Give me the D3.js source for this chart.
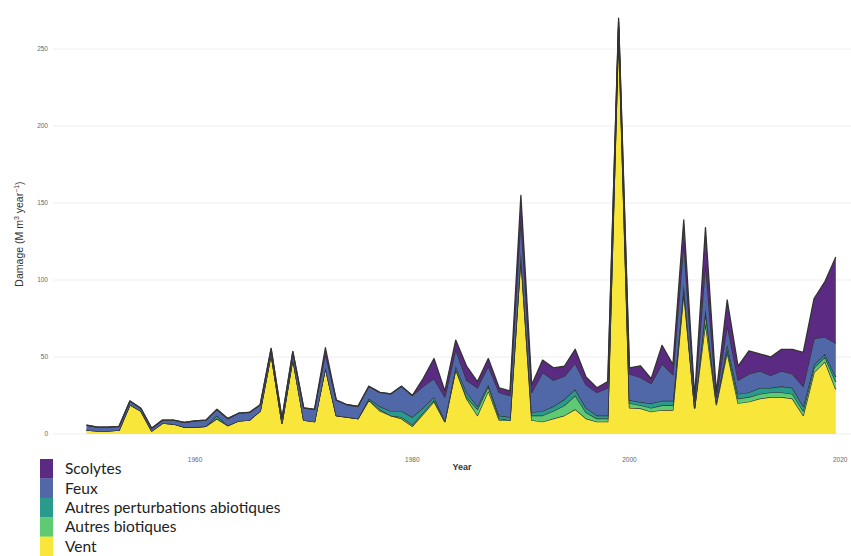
<!DOCTYPE html>
<html>
<head>
<meta charset="utf-8">
<script src="https://cdn.jsdelivr.net/npm/d3@7"></script>
<style>
  html, body { margin: 0; padding: 0; background: #fff; }
  svg { display: block; }
</style>
</head>
<body>
<svg id="chart" width="851" height="556"></svg>
<script>
// Annual forest damage by disturbance agent, 1950–2019 (M m³ / year)
const years = [
  1950, 1951, 1952, 1953, 1954, 1955, 1956, 1957, 1958, 1959,
  1960, 1961, 1962, 1963, 1964, 1965, 1966, 1967, 1968, 1969,
  1970, 1971, 1972, 1973, 1974, 1975, 1976, 1977, 1978, 1979,
  1980, 1981, 1982, 1983, 1984, 1985, 1986, 1987, 1988, 1989,
  1990, 1991, 1992, 1993, 1994, 1995, 1996, 1997, 1998, 1999,
  2000, 2001, 2002, 2003, 2004, 2005, 2006, 2007, 2008, 2009,
  2010, 2011, 2012, 2013, 2014, 2015, 2016, 2017, 2018, 2019
];

const vent = [
  2.5, 2, 2, 2.5, 19, 15, 2, 7, 6.5, 4.5,
  4.5, 5, 10, 5.5, 8.5, 9, 15, 52, 7, 49,
  9, 8, 43, 12, 11, 10, 22, 15, 12, 10,
  5, 13, 21, 8, 42, 23, 12, 28, 9, 9,
  115, 9, 8, 10, 12, 16, 10, 8, 8, 263,
  17, 16.7, 14.5, 15.6, 15.6, 92, 17, 72, 19, 53,
  20, 21, 23, 24, 24, 23, 12, 40, 47, 29
];

const autresBiotiques = [
  0, 0, 0, 0, 0, 0, 0, 0, 0, 0,
  0, 0, 0, 0, 0, 0, 0, 0, 0, 0,
  0, 0, 0, 0, 0, 0, 0, 1, 0, 1,
  1, 1, 1, 0, 0, 1, 4, 3, 1, 0,
  1, 3, 4, 5, 6.5, 9, 4, 2, 2, 1,
  3, 2, 2.4, 3, 3, 2, 0, 7, 1, 2,
  3, 3, 3, 3, 3, 3, 3, 3, 3, 5
];

const autresAbiotiques = [
  0, 0, 0, 0, 0, 0, 0, 0, 0, 0,
  0, 0, 2, 0, 0, 0, 0, 0, 0, 0,
  0, 0, 0, 0, 0, 0, 1, 2, 3, 4,
  5, 3, 2, 1, 2, 3, 2, 1, 2, 2,
  2, 2, 3, 3, 4, 4, 3, 2, 2, 1,
  2, 2, 3, 3, 3, 3, 0, 2, 1, 3,
  3, 3, 4, 3, 4, 4, 3, 2, 2, 3
];

const feux = [
  3.3, 2.5, 2.5, 2.5, 2.4, 1.7, 1.7, 2, 2.5, 3,
  4, 4, 4, 4.5, 5, 5, 4, 3.5, 3, 4.5,
  8, 8, 9, 10, 8, 8, 8, 9, 11, 16,
  14, 14, 12, 15, 11, 8, 12, 12, 15, 14,
  22, 13, 25, 17, 15, 17, 15, 15, 18, 3,
  17, 16, 13, 24, 17, 28, 4, 30, 3, 13,
  9, 12, 11, 8, 10, 9, 13, 17, 11, 22
];

const scolytes = [
  0, 0, 0, 0, 0, 0, 0, 0, 0, 0,
  0, 0, 0, 0, 0, 0, 0, 0, 0, 0,
  0, 0, 4, 0, 0, 0, 0, 0, 0, 0,
  0, 5, 13, 4, 6, 9, 4, 5, 3, 3,
  15, 5, 8, 8, 6.5, 9, 5, 3, 4, 2,
  4, 7.6, 3, 12, 6.5, 14, 3, 23, 3, 16,
  9, 15, 11, 12, 14, 16, 22, 26, 36, 56
];

const xTicks = [1960, 1980, 2000, 2020];
const yTicks = [0, 50, 100, 150, 200, 250];

// Stacking order, bottom to top, with legend labels (legend lists top first)
const keys = ["vent", "bio", "abio", "feux", "scol"];
const labels = {
  scol: "Scolytes",
  feux: "Feux",
  abio: "Autres perturbations abiotiques",
  bio: "Autres biotiques",
  vent: "Vent"
};
const colors = {
  scol: "#5b2a82",
  feux: "#5068a8",
  abio: "#2a9a8c",
  bio: "#5ecb74",
  vent: "#f9e63b"
};

const rows = years.map((yr, i) => ({
  year: yr,
  vent: vent[i],
  bio: autresBiotiques[i],
  abio: autresAbiotiques[i],
  feux: feux[i],
  scol: scolytes[i]
}));

const svg = d3.select("#chart");

const x = d3.scaleLinear().domain([1950, 2019]).range([86.5, 835.8]);
const y = d3.scaleLinear().domain([0, 250]).range([434, 49]);

// Horizontal gridlines
svg.append("g")
  .selectAll("line")
  .data(yTicks)
  .join("line")
  .attr("x1", 53)
  .attr("x2", 851)
  .attr("y1", d => y(d))
  .attr("y2", d => y(d))
  .attr("stroke", "#ececec")
  .attr("stroke-width", 0.9);

// Y tick labels
svg.append("g")
  .selectAll("text")
  .data(yTicks)
  .join("text")
  .attr("x", 48)
  .attr("y", d => y(d))
  .attr("dy", "0.35em")
  .attr("text-anchor", "end")
  .attr("font-family", "Liberation Sans, Arial, sans-serif")
  .attr("font-size", 6.5)
  .attr("fill", "#666")
  .text(d => d);

// X tick labels (the last one sits against the right edge)
svg.append("g")
  .selectAll("text")
  .data(xTicks)
  .join("text")
  .attr("x", d => Math.min(x(d), 833))
  .attr("y", 462)
  .attr("text-anchor", d => x(d) > 833 ? "start" : "middle")
  .attr("font-family", "Liberation Sans, Arial, sans-serif")
  .attr("font-size", 6.5)
  .attr("fill", "#666")
  .text(d => d);

// Stacked areas
const stacked = d3.stack().keys(keys)(rows);

const area = d3.area()
  .x(d => x(d.data.year))
  .y0(d => y(d[0]))
  .y1(d => y(d[1]));

const upper = d3.line()
  .x(d => x(d.data.year))
  .y(d => y(d[1]));

const layers = svg.append("g");
stacked.forEach(layer => {
  layers.append("path")
    .datum(layer)
    .attr("d", area)
    .attr("fill", colors[layer.key]);
  layers.append("path")
    .datum(layer)
    .attr("d", upper)
    .attr("fill", "none")
    .attr("stroke", "#333")
    .attr("stroke-width", 1.3)
    .attr("stroke-linejoin", "round");
});

// Axis titles
svg.append("text")
  .attr("x", 462)
  .attr("y", 470)
  .attr("text-anchor", "middle")
  .attr("font-family", "Liberation Sans, Arial, sans-serif")
  .attr("font-size", 9)
  .attr("font-weight", "bold")
  .attr("fill", "#333")
  .text("Year");

const yTitle = svg.append("text")
  .attr("transform", "translate(23,234) rotate(-90)")
  .attr("text-anchor", "middle")
  .attr("font-family", "Liberation Sans, Arial, sans-serif")
  .attr("font-size", 10.5)
  .attr("fill", "#333");
yTitle.append("tspan").text("Damage (M m");
yTitle.append("tspan").attr("dy", -4).attr("font-size", 7).text("3");
yTitle.append("tspan").attr("dy", 4).text(" year");
yTitle.append("tspan").attr("dy", -4).attr("font-size", 7).text("−1");
yTitle.append("tspan").attr("dy", 4).text(")");

// Legend (top of stack listed first)
const legendKeys = keys.slice().reverse();
const legend = svg.append("g");
const keyTop = 459, keyH = 19.4;
legend.selectAll("rect")
  .data(legendKeys)
  .join("rect")
  .attr("x", 40)
  .attr("y", (d, i) => keyTop + i * keyH)
  .attr("width", 13)
  .attr("height", keyH + 0.3)
  .attr("fill", d => colors[d]);
legend.selectAll("text")
  .data(legendKeys)
  .join("text")
  .attr("x", 65)
  .attr("y", (d, i) => keyTop + i * keyH + keyH / 2)
  .attr("dy", "0.35em")
  .attr("font-family", "Lato, sans-serif")
  .attr("font-size", 15.5)
  .attr("fill", "#222")
  .text(d => labels[d]);
</script>
</body>
</html>
